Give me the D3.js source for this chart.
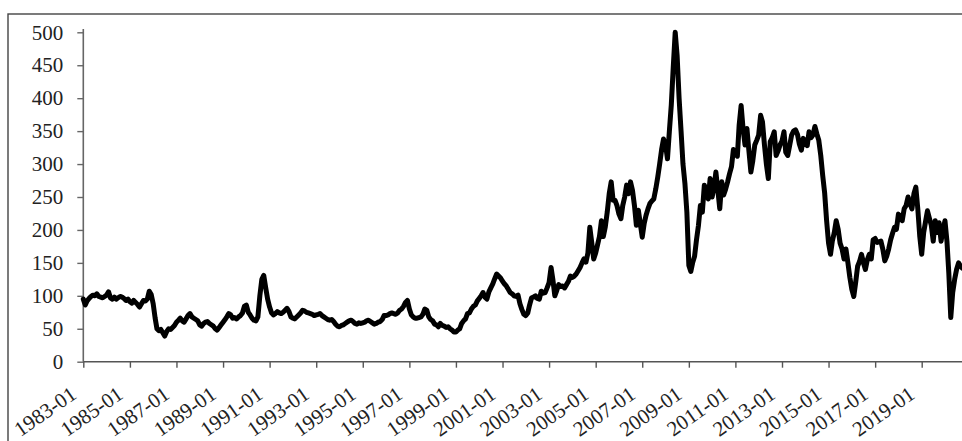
<!DOCTYPE html>
<html>
<head>
<meta charset="utf-8">
<script src="https://cdn.jsdelivr.net/npm/d3@7"></script>
<style>
html, body { margin: 0; padding: 0; background: #fff; overflow: hidden; }
</style>
</head>
<body>
<script>
// monthly index values, first month = startMonth
var startMonth = "1983-01";

var values1980s = [
  95, 86, 92, 96, 99, 101, 100, 103, 99, 98, 97, 99,       // 1983
  101, 106, 97, 95, 98, 95, 97, 99, 98, 96, 93, 95,        // 1984
  91, 89, 93, 90, 87, 83, 88, 93, 92, 95, 107, 102,        // 1985
  88, 66, 50, 47, 49, 44, 39, 46, 50, 49, 52, 55,          // 1986
  60, 63, 66, 62, 60, 65, 70, 73, 68, 66, 64, 62,          // 1987
  56, 54, 58, 60, 61, 58, 56, 54, 50, 48, 52, 56,          // 1988
  60, 64, 68, 73, 71, 66, 67, 65, 68, 70, 74, 84           // 1989
];

var values1990s = [
  86, 75, 71, 66, 63, 62, 68, 100, 125, 131, 112, 95,      // 1990
  83, 74, 71, 73, 76, 74, 73, 75, 78, 81, 76, 68,          // 1991
  66, 65, 68, 71, 74, 78, 77, 75, 74, 73, 72, 70,          // 1992
  71, 72, 73, 70, 68, 66, 64, 63, 64, 61, 57, 54,          // 1993
  53, 55, 56, 58, 60, 62, 63, 61, 58, 57, 59, 58,          // 1994
  59, 60, 62, 63, 61, 59, 57, 58, 60, 61, 64, 70,          // 1995
  70, 71, 73, 74, 73, 72, 74, 78, 80, 84, 90, 93,          // 1996
  80, 71, 68, 66, 66, 67, 68, 72, 80, 78, 68, 64,          // 1997
  62, 57, 56, 53, 58, 55, 54, 52, 53, 50, 48, 45,          // 1998
  45, 48, 50, 58, 62, 65, 73, 74, 80, 84, 86, 92           // 1999
];

var values2000s = [
  96, 100, 105, 98, 95, 106, 112, 118, 126, 133, 130, 127,      // 2000
  122, 118, 115, 110, 105, 103, 100, 99, 101, 88, 79, 72,       // 2001
  70, 74, 86, 97, 98, 100, 96, 95, 107, 104, 105, 112,          // 2002
  120, 143, 125, 100, 108, 117, 114, 115, 112, 117, 122, 130,   // 2003
  128, 130, 133, 138, 143, 150, 156, 151, 165, 204, 180, 156,   // 2004
  165, 178, 190, 214, 190, 205, 227, 255, 273, 245, 245, 237,   // 2005
  224, 217, 237, 250, 268, 255, 273, 260, 237, 207, 230, 210,   // 2006
  189, 210, 222, 232, 240, 244, 247, 262, 280, 300, 322, 338,   // 2007
  330, 308, 349, 390, 446, 500, 465, 400, 350, 300, 270, 227,   // 2008
  146, 137, 150, 160, 185, 207, 237, 227, 268, 255, 247, 278    // 2009
];

var values2010s = [
  250, 265, 288, 260, 232, 273, 253, 262, 273, 285, 296, 322,   // 2010
  315, 312, 359, 389, 354, 329, 354, 320, 288, 305, 329, 336,   // 2011
  344, 374, 364, 329, 300, 278, 334, 340, 349, 313, 320, 329,   // 2012
  335, 349, 318, 313, 328, 344, 350, 352, 345, 330, 321, 339,   // 2013
  333, 328, 349, 340, 344, 357, 346, 336, 313, 283, 256, 215,   // 2014
  180, 163, 183, 196, 214, 201, 180, 171, 156, 171, 150, 128,   // 2015
  110, 99, 120, 145, 152, 163, 150, 140, 155, 163, 156, 185,    // 2016
  187, 181, 182, 183, 171, 153, 160, 171, 185, 195, 204, 201,   // 2017
  224, 218, 214, 232, 237, 250, 240, 232, 255, 265, 232, 191,   // 2018
  163, 196, 212, 229, 218, 207, 183, 214, 196, 211, 183, 200,   // 2019
  214, 183, 135, 67, 105, 125, 140, 150, 145, 142               // 2020
];

var yTicks = [0, 50, 100, 150, 200, 250, 300, 350, 400, 450, 500];
var xTickLabels = ["1983-01", "1985-01", "1987-01", "1989-01", "1991-01", "1993-01",
  "1995-01", "1997-01", "1999-01", "2001-01", "2003-01", "2005-01", "2007-01",
  "2009-01", "2011-01", "2013-01", "2015-01", "2017-01", "2019-01"];

var width = 962;
var height = 441;
var font = "'Liberation Serif', 'Times New Roman', serif";

var svg = d3.select("body")
  .append("svg")
  .attr("width", width)
  .attr("height", height)
  .style("display", "block");

svg.append("rect")
  .attr("width", width).attr("height", height)
  .attr("fill", "#fff");

// outer frame (runs off right and bottom edges)
svg.append("rect")
  .attr("x", 8).attr("y", 14)
  .attr("width", 1000).attr("height", 600)
  .attr("fill", "none")
  .attr("stroke", "#444")
  .attr("stroke-width", 1.4);

var parse = d3.timeParse("%Y-%m");
var start = parse(startMonth);
var values = values1980s.concat(values1990s, values2000s, values2010s);
var data = values.map(function(v, i) {
  return { date: d3.timeMonth.offset(start, i), value: v };
});

var x = d3.scaleTime()
  .domain([parse("1983-01"), parse("2019-01")])
  .range([83.3, 921.7]);

var y = d3.scaleLinear()
  .domain([0, 500])
  .range([361.7, 32.3]);

// y axis
var yAxis = svg.append("g")
  .attr("transform", "translate(83.3,0)")
  .call(d3.axisLeft(y).tickValues(yTicks).tickSize(6).tickSizeOuter(0).tickPadding(14));

yAxis.select(".domain").attr("stroke", "#666").attr("stroke-width", 1.6)
  .attr("d", "M0," + y(0) + "V29");
yAxis.selectAll(".tick line").attr("stroke", "#666").attr("stroke-width", 1.4);
yAxis.selectAll("text")
  .attr("fill", "#222")
  .style("font-family", font)
  .style("font-size", "21px");

// x axis
var xAxis = svg.append("g")
  .attr("transform", "translate(0," + y(0) + ")")
  .call(d3.axisBottom(x)
    .tickValues(xTickLabels.map(parse))
    .tickFormat(d3.timeFormat("%Y-%m"))
    .tickSize(6)
    .tickSizeOuter(0));

xAxis.select(".domain").remove();
xAxis.append("line")
  .attr("x1", x(parse("1983-01"))).attr("x2", width)
  .attr("stroke", "#555").attr("stroke-width", 1.6);
xAxis.selectAll(".tick line").attr("stroke", "#555").attr("stroke-width", 1.4);
xAxis.selectAll("text")
  .attr("x", 0).attr("y", 0).attr("dy", null)
  .attr("fill", "#222")
  .style("text-anchor", "end")
  .style("font-family", font)
  .style("font-size", "21px")
  .attr("transform", "translate(-6,35.5) rotate(-35)");

// series line
var line = d3.line()
  .x(function(d) { return x(d.date); })
  .y(function(d) { return y(d.value); });

svg.append("path")
  .datum(data)
  .attr("d", line)
  .attr("fill", "none")
  .attr("stroke", "#000")
  .attr("stroke-width", 5)
  .attr("stroke-linejoin", "round")
  .attr("stroke-linecap", "round");
</script>
</body>
</html>
